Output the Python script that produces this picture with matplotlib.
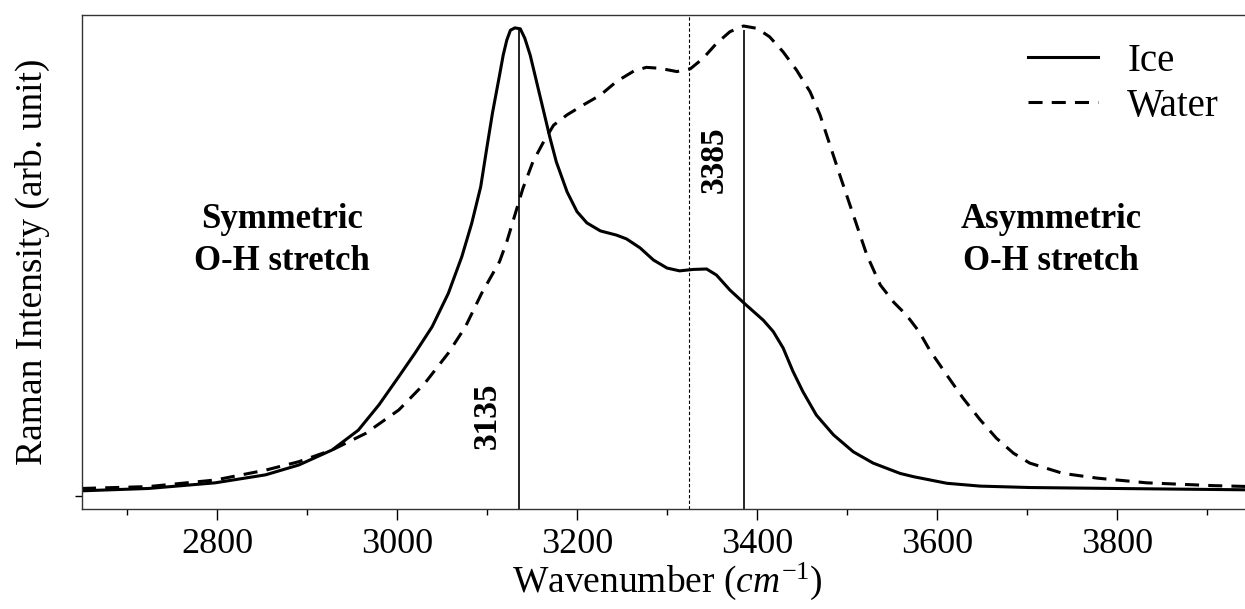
import numpy as np
import matplotlib
matplotlib.use('Agg')
import matplotlib.pyplot as plt

plt.rcParams['font.family'] = ['Liberation Serif', 'DejaVu Serif']
plt.rcParams['mathtext.fontset'] = 'custom'
plt.rcParams['mathtext.rm'] = 'Liberation Serif'
plt.rcParams['mathtext.it'] = 'Liberation Serif:italic'

# Raman spectra (normalised intensity)
ice_x = [2650, 2724, 2798, 2854, 2891, 2928, 2957, 2980, 3002, 3020, 3039, 3057,
         3072, 3083, 3093, 3100, 3106, 3114, 3118, 3122, 3126, 3131, 3137, 3142,
         3148, 3155, 3163, 3170, 3177, 3189, 3200, 3211, 3226, 3244, 3255, 3270,
         3285, 3300, 3314, 3329, 3344, 3355, 3370, 3387, 3407, 3418, 3429, 3440,
         3451, 3466, 3485, 3507, 3529, 3559, 3574, 3611, 3648, 3703, 3796, 3950]
ice_y = [0.011, 0.016, 0.028, 0.045, 0.066, 0.098, 0.140, 0.194, 0.254, 0.304, 0.360, 0.431,
         0.509, 0.580, 0.658, 0.743, 0.814, 0.896, 0.938, 0.970, 0.991, 0.996, 0.994, 0.974,
         0.938, 0.882, 0.818, 0.762, 0.711, 0.647, 0.605, 0.581, 0.564, 0.555, 0.547, 0.528,
         0.502, 0.485, 0.479, 0.482, 0.483, 0.470, 0.438, 0.408, 0.374, 0.350, 0.315, 0.265,
         0.222, 0.172, 0.130, 0.094, 0.070, 0.048, 0.041, 0.027, 0.021, 0.018, 0.016, 0.013]

water_x = [2650, 2724, 2798, 2854, 2891, 2928, 2965, 3002, 3031, 3057, 3076, 3094,
           3114, 3122, 3131, 3140, 3151, 3163, 3174, 3189, 3207, 3226, 3244, 3263,
           3277, 3292, 3311, 3326, 3340, 3355, 3370, 3385, 3400, 3414, 3429, 3444,
           3459, 3470, 3481, 3492, 3507, 3522, 3537, 3552, 3566, 3580, 3592, 3611,
           3629, 3648, 3666, 3685, 3703, 3740, 3778, 3833, 3907, 3950]
water_y = [0.016, 0.020, 0.034, 0.055, 0.073, 0.098, 0.133, 0.183, 0.240, 0.304, 0.360, 0.431,
           0.499, 0.541, 0.598, 0.655, 0.711, 0.754, 0.789, 0.811, 0.832, 0.853, 0.882, 0.904,
           0.912, 0.910, 0.903, 0.909, 0.931, 0.963, 0.988, 1.000, 0.995, 0.977, 0.945, 0.906,
           0.860, 0.811, 0.747, 0.683, 0.598, 0.513, 0.449, 0.412, 0.385, 0.350, 0.310, 0.257,
           0.208, 0.162, 0.123, 0.091, 0.070, 0.048, 0.038, 0.028, 0.022, 0.020]

peak_pos = [3135, 3385]
peak_top = [0.996, 0.991]
peak_labels = ['3135', '3385']
peak_label_xy = [(3100, 0.17), (3352, 0.715)]
split_pos = 3324

fig = plt.figure(figsize=(12.45, 6.09), dpi=100)
ax = fig.add_axes([82/1245, 100/609, 1170/1245, 494/609])

ax.plot(ice_x, ice_y, color='black', lw=2.2, label='Ice')
ax.plot(water_x, water_y, color='black', lw=2.2, linestyle=(0, (4.6, 3.0)), label='Water')

ax.set_xlim(2650, 3950)
ax.set_ylim(-0.0277, 1.0234)

for xp, yt in zip(peak_pos, peak_top):
    ax.vlines(xp, -0.0277, yt, color='black', lw=1.2)
ax.axvline(split_pos, color='black', lw=0.8, linestyle=(0, (3, 2)))

for lab, (tx, ty) in zip(peak_labels, peak_label_xy):
    ax.text(tx, ty, lab, rotation=90, ha='center', va='center',
            fontsize=24, fontweight='bold')

ax.text(2872, 0.543, 'Symmetric\nO-H stretch', ha='center', va='center',
        fontsize=25, fontweight='bold', linespacing=1.35)
ax.text(3727, 0.543, 'Asymmetric\nO-H stretch', ha='center', va='center',
        fontsize=25, fontweight='bold', linespacing=1.35)

ax.set_xticks([2800, 3000, 3200, 3400, 3600, 3800])
ax.set_xticks(np.arange(2700, 3950, 200), minor=True)
ax.set_yticks([0])
ax.set_yticklabels([''])
ax.tick_params(axis='x', which='major', direction='out', length=8, width=1, labelsize=26, pad=6)
ax.tick_params(axis='x', which='minor', direction='out', length=4, width=1)
ax.tick_params(axis='y', direction='out', length=5, width=1)

for s in ax.spines.values():
    s.set_linewidth(1.0)
    s.set_color('#333333')
ax.spines['right'].set_visible(False)

ax.set_xlabel(r'Wavenumber ($\mathit{cm}^{\mathit{-1}}$)', fontsize=27)
ax.set_ylabel('Raman Intensity (arb. unit)', fontsize=27)
ax.xaxis.set_label_coords(0.5, -0.105)
ax.yaxis.set_label_coords(-0.027, 0.5)

fig.legend(loc='upper left', bbox_to_anchor=(1028/1245, 1 - 43/609),
           bbox_transform=fig.transFigure, frameon=False, fontsize=28,
           handlelength=1.8, handletextpad=0.75, labelspacing=0.2,
           borderpad=0, borderaxespad=0)

fig.savefig('out.png', dpi=100)
